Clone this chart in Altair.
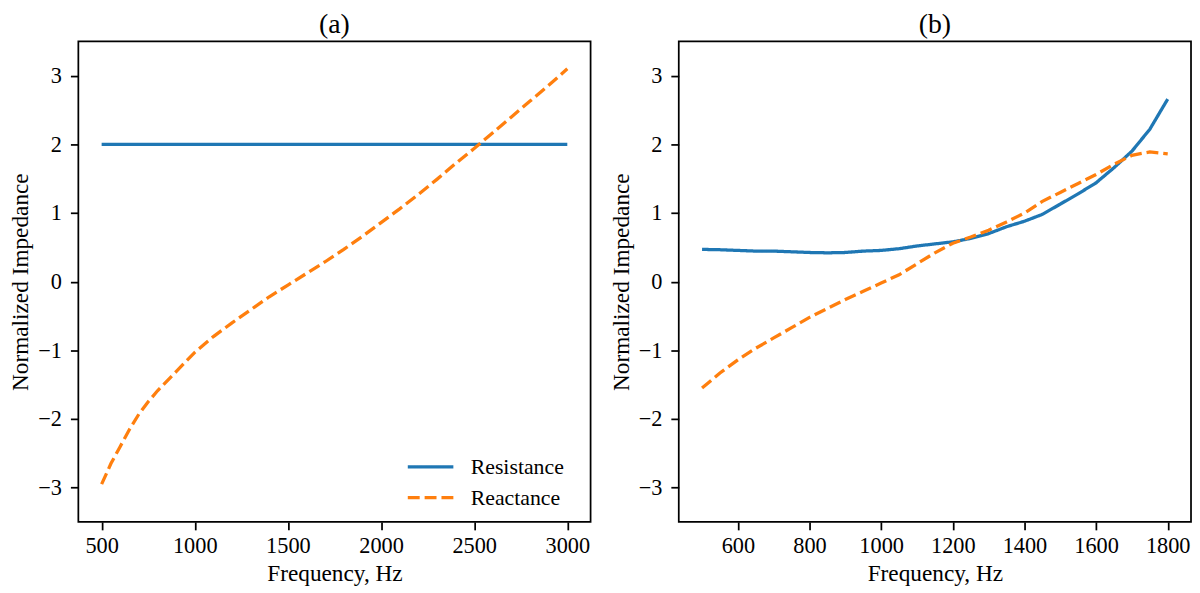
import altair as alt
import pandas as pd

FONT = "Liberation Serif"
BLUE = "#1f77b4"
ORANGE = "#ff7f0e"
SERIES = ["Resistance", "Reactance"]

# Panel (a)
freq_a_res = [500, 3000]
res_a = [2.0, 2.0]
freq_a = [500, 550, 600, 650, 700, 750, 800, 900, 1000, 1100, 1200, 1300, 1400,
          1500, 1600, 1700, 1800, 1900, 2000, 2100, 2200, 2300, 2400, 2500,
          2600, 2700, 2800, 2900, 3000]
react_a = [-2.95, -2.65, -2.40, -2.15, -1.93, -1.75, -1.59, -1.31, -1.03, -0.80,
           -0.60, -0.41, -0.22, -0.05, 0.12, 0.29, 0.47, 0.66, 0.86, 1.06, 1.27,
           1.49, 1.72, 1.94, 2.17, 2.40, 2.63, 2.86, 3.10]

# Panel (b)
freq_b = [500, 550, 600, 650, 700, 750, 800, 850, 900, 950, 1000, 1050, 1100,
          1150, 1200, 1250, 1300, 1350, 1400, 1450, 1500, 1550, 1600, 1650,
          1700, 1750, 1800]
res_b = [0.47, 0.465, 0.455, 0.445, 0.445, 0.435, 0.425, 0.42, 0.425, 0.445,
         0.455, 0.48, 0.52, 0.55, 0.58, 0.63, 0.70, 0.80, 0.88, 0.98, 1.13,
         1.28, 1.44, 1.66, 1.90, 2.22, 2.66]
react_b = [-1.55, -1.33, -1.14, -0.97, -0.82, -0.67, -0.52, -0.39, -0.26, -0.14,
           -0.02, 0.10, 0.26, 0.42, 0.56, 0.65, 0.75, 0.87, 1.00, 1.17, 1.30,
           1.43, 1.56, 1.71, 1.84, 1.89, 1.86]

xticks_a = [500, 1000, 1500, 2000, 2500, 3000]
xticks_b = [600, 800, 1000, 1200, 1400, 1600, 1800]
yticks = [-3, -2, -1, 0, 1, 2, 3]


def frame(fr, fv, fx, rv):
    rows = [{"freq": f, "val": v, "series": "Resistance"} for f, v in zip(fr, fv)]
    rows += [{"freq": f, "val": v, "series": "Reactance"} for f, v in zip(fx, rv)]
    return pd.DataFrame(rows)


df_a = frame(freq_a_res, res_a, freq_a, react_a)
df_b = frame(freq_b, res_b, freq_b, react_b)


def panel(df, title, xdom, xvals, show_legend):
    if show_legend:
        leg = alt.Legend(title=None, orient="none", legendX=342, legendY=416,
                         symbolType="M-2,0L2,0", symbolSize=529, symbolStrokeWidth=3.3,
                         labelFont=FONT, labelFontSize=22, labelColor="black",
                         labelOffset=27, rowPadding=6, padding=0)
    else:
        leg = None
    x = alt.X("freq:Q",
              scale=alt.Scale(domain=xdom, nice=False, zero=False),
              axis=alt.Axis(values=xvals, format="d", title="Frequency, Hz",
                            labelPadding=5, titlePadding=5))
    y = alt.Y("val:Q",
              scale=alt.Scale(domain=[-3.5, 3.5], nice=False, zero=False),
              axis=alt.Axis(values=yticks, format="d", title="Normalized Impedance",
                            labelPadding=9, titlePadding=5))
    color = alt.Color("series:N", scale=alt.Scale(domain=SERIES, range=[BLUE, ORANGE]),
                      legend=leg)
    dash = alt.StrokeDash("series:N",
                          scale=alt.Scale(domain=SERIES, range=[[1, 0], [12, 5]]),
                          legend=leg)
    return (
        alt.Chart(df)
        .mark_line(strokeWidth=3.3, clip=True, strokeCap="butt")
        .encode(x=x, y=y, color=color, strokeDash=dash)
        .properties(width=517, height=485, title=alt.Title(title, offset=2))
    )


pa = panel(df_a, "(a)", [375, 3125], xticks_a, True)
pb = panel(df_b, "(b)", [435, 1865], xticks_b, False)

chart = (
    alt.hconcat(pa, pb, spacing=17)
    .resolve_scale(color="independent", strokeDash="independent")
    .properties(padding={"left": 0, "top": 0, "right": 0, "bottom": 0})
    .configure_view(stroke="black", strokeWidth=1.75)
    .configure_axis(domain=False, grid=False, tickColor="black", tickSize=8,
                    tickWidth=1.75, labelFont=FONT, labelFontSize=22.5,
                    labelColor="black", titleFont=FONT, titleFontSize=23.5,
                    titleFontWeight="normal", titleColor="black")
    .configure_title(font=FONT, fontSize=28, fontWeight="normal", color="black",
                     anchor="middle")
)

chart.save("out.html", embed_options={"renderer": "svg", "actions": False})
